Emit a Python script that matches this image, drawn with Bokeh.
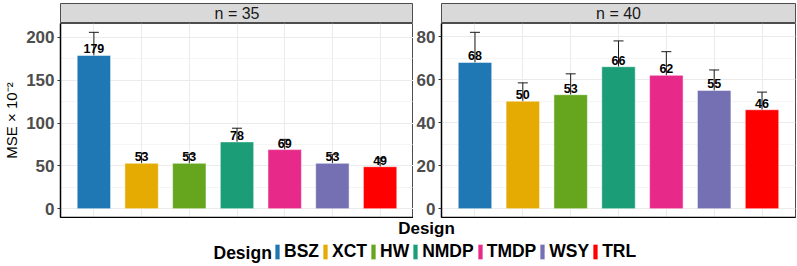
from bokeh.plotting import figure
from bokeh.models import (ColumnDataSource, FactorRange, Range1d, Whisker, TeeHead,
                          LabelSet, Label, Legend, LegendItem, SingleIntervalTicker,
                          FixedTicker, CategoricalTicker)
from bokeh.core.properties import value
from bokeh.layouts import row, column
from bokeh.embed import file_html
from bokeh.resources import INLINE

# ---------------- data ----------------
designs = ["BSZ", "XCT", "HW", "NMDP", "TMDP", "WSY", "TRL"]
colors = ["#1F78B4", "#E6AB02", "#66A61E", "#1B9E77", "#E7298A", "#7570B3", "#FF0000"]
panel_titles = ["n = 35", "n = 40"]
mse_n35 = [179, 53, 53, 78, 69, 53, 49]
err_n35 = [27, 12, 10.5, 16, 12, 10, 10]
mse_n40 = [68, 50, 53, 66, 62, 55, 46]
err_n40 = [14, 8.5, 9.7, 12, 11, 9.5, 8.2]
tick_steps = [50, 20]
y_title = "MSE \u00d7 10\u207b\u00b2"
x_title = "Design"
legend_title = "Design"

FONT = "Liberation Sans"
BORDER = "#4d4d4d"


def make_panel(title, vals, errs, step, border_left, border_right, width, ylabel=None):
    upper = [v + e for v, e in zip(vals, errs)]
    lower = [v - e for v, e in zip(vals, errs)]
    src = ColumnDataSource(dict(design=designs, mse=vals, upper=upper, lower=lower,
                                color=colors, label=[str(round(v)) for v in vals]))
    hi = max(upper)
    pad = 0.05 * hi
    p = figure(x_range=FactorRange(factors=designs, range_padding=0.2,
                                   range_padding_units="absolute"),
               y_range=Range1d(-pad, hi + pad), width=width, height=195,
               output_backend="svg", toolbar_location=None,
               min_border_left=border_left, min_border_right=border_right,
               min_border_top=0, min_border_bottom=1)
    p.vbar(x="design", top="mse", width=0.7, source=src, fill_color="color",
           line_color="white", line_alpha=0.5, line_width=1)
    head_kw = dict(size=10, line_color="#1a1a1a", line_width=1)
    p.add_layout(Whisker(base="design", upper="upper", lower="lower", source=src,
                         line_color="#1a1a1a", line_width=1,
                         upper_head=TeeHead(**head_kw), lower_head=TeeHead(**head_kw)))
    p.add_layout(LabelSet(x="design", y="mse", text="label", source=src,
                          text_align="center", text_baseline="alphabetic", y_offset=2,
                          text_font=value(FONT), text_font_style="bold",
                          text_font_size="12.5px", text_color="black"))
    # grids
    p.xgrid.ticker = CategoricalTicker()
    p.xgrid.grid_line_color = "#ebebeb"
    p.ygrid.grid_line_color = "#ebebeb"
    p.ygrid.minor_grid_line_color = "#ebebeb"
    p.ygrid.minor_grid_line_width = 0.5
    p.outline_line_color = BORDER
    p.outline_line_width = 1
    # y axis
    p.yaxis.ticker = SingleIntervalTicker(interval=step, num_minor_ticks=2)
    p.yaxis.major_label_text_font = FONT
    p.yaxis.major_label_text_font_style = "bold"
    p.yaxis.major_label_text_font_size = "17px"
    p.yaxis.major_label_text_color = "#4d4d4d"
    p.yaxis.major_label_standoff = 2
    p.yaxis.major_tick_in = 0
    p.yaxis.major_tick_out = 3
    p.yaxis.major_tick_line_color = "#333333"
    p.yaxis.minor_tick_line_color = None
    p.yaxis.axis_line_color = "black"
    p.yaxis.axis_line_width = 1.5
    if ylabel:
        p.yaxis.axis_label = ylabel
        p.yaxis.axis_label_text_font = FONT
        p.yaxis.axis_label_text_font_style = "normal"
        p.yaxis.axis_label_text_font_size = "15px"
        p.yaxis.axis_label_text_color = "black"
        p.yaxis.axis_label_standoff = 3
    # x axis: line only, no tick labels
    p.xaxis.ticker = FixedTicker(ticks=[])
    p.xaxis.major_tick_line_color = None
    p.xaxis.major_tick_out = 0
    p.xaxis.major_tick_in = 0
    p.xaxis.minor_tick_line_color = None
    p.xaxis.axis_line_color = "black"
    p.xaxis.axis_line_width = 1.5

    # facet strip
    s = figure(width=width, height=23, x_range=Range1d(0, 1), y_range=Range1d(0, 1),
               x_axis_location=None, y_axis_location=None,
               min_border_left=border_left, min_border_right=border_right,
               min_border_top=3, min_border_bottom=0,
               output_backend="svg", toolbar_location=None)
    s.grid.visible = False
    s.background_fill_color = "#d9d9d9"
    s.outline_line_color = BORDER
    s.add_layout(Label(x=0.5, y=0.5, text=title, text_align="center",
                       text_baseline="middle", text_font=FONT, text_font_size="16px",
                       text_color="#1a1a1a"))
    return column(s, p, spacing=0)


c1 = make_panel(panel_titles[0], mse_n35, err_n35, tick_steps[0], 57, 0, 413, ylabel=y_title)
c2 = make_panel(panel_titles[1], mse_n40, err_n40, tick_steps[1], 24, 2, 384)

# ---------------- bottom: x title + legend ----------------
lg = figure(width=797, height=48, x_range=FactorRange(factors=designs), y_range=Range1d(1, 2),
            x_axis_location=None, y_axis_location=None, min_border=0,
            output_backend="svg", toolbar_location=None)
lg.grid.visible = False
lg.outline_line_color = None
items = []
for d, c in zip(designs, colors):
    r = lg.vbar(x=[d], top=[0], width=0.5, fill_color=c, line_color="white", line_alpha=0.5)
    items.append(LegendItem(label=d, renderers=[r]))
leg = Legend(items=items, orientation="horizontal", location=(274, 4),
             glyph_width=6, glyph_height=19, label_standoff=4, spacing=3,
             padding=0, margin=0, border_line_color=None, background_fill_alpha=0,
             label_text_font=FONT, label_text_font_style="bold",
             label_text_font_size="17.5px", label_text_color="black", label_height=19)
lg.add_layout(leg)
lg.add_layout(Label(x=426, y=38.5, x_units="screen", y_units="screen", text=x_title,
                    text_align="center", text_baseline="middle", text_font=FONT,
                    text_font_style="bold", text_font_size="17px", text_color="black"))
lg.add_layout(Label(x=213, y=13.5, x_units="screen", y_units="screen", text=legend_title,
                    text_align="left", text_baseline="middle", text_font=FONT,
                    text_font_style="bold", text_font_size="17.5px", text_color="black"))

layout = column(row(c1, c2, spacing=0), lg, spacing=0)

open("out.html", "w").write(file_html(layout, INLINE))
